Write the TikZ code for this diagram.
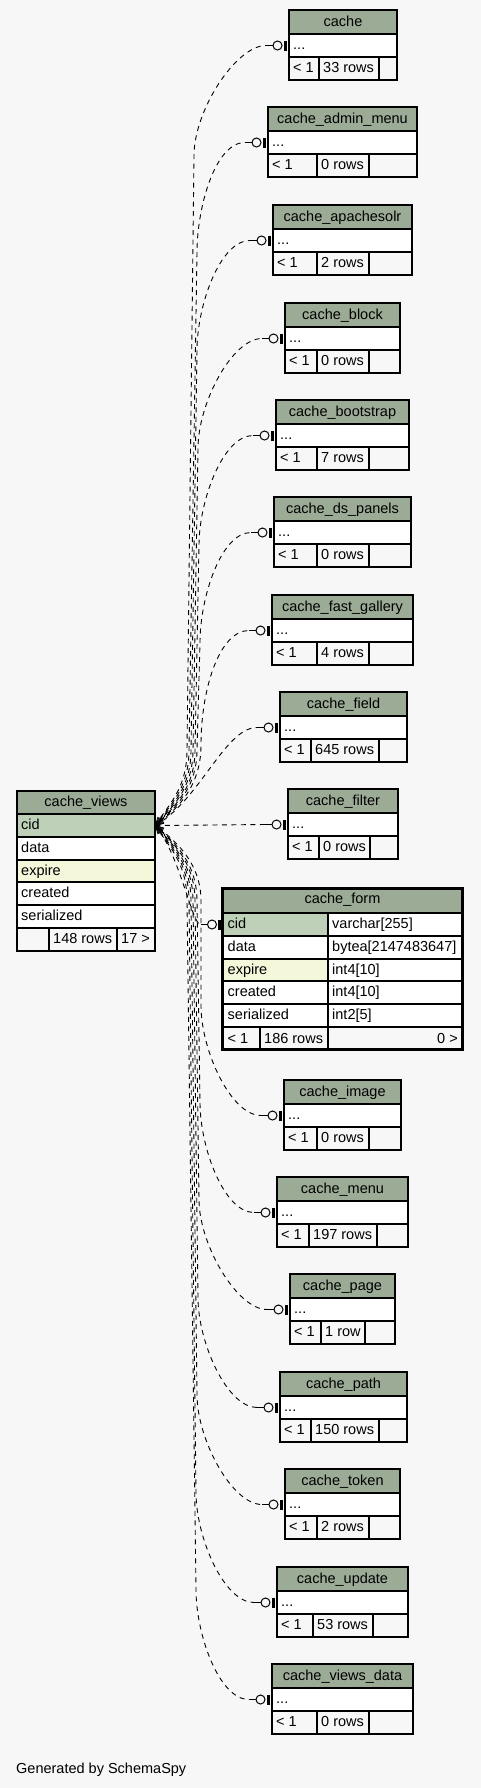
\documentclass[tikz,border=0pt]{standalone}
\usepackage{fontspec}
\setmainfont{Liberation Sans}
\usetikzlibrary{calc}
\definecolor{hdr}{HTML}{9BAB96}
\definecolor{pk}{HTML}{BED1B8}
\definecolor{idx}{HTML}{F4F7DA}
\definecolor{bgc}{HTML}{F7F7F7}
\tikzset{
  tb/.style={draw=black, line width=1.1pt},
  txt/.style={inner sep=4pt, text height=11pt, text depth=2.4pt, font=\fontsize{14.5pt}{17pt}\selectfont},
  rel/.style={draw=black, line width=0.9pt, dash pattern=on 5pt off 4.5pt},
  crowline/.style={draw=black, line width=0.7pt},
  endline/.style={draw=black, line width=1pt},
}
\newcommand\smalltab[8]{%
  \fill[hdr] (#2,#4) rectangle (#3,#4+24);
  \fill[white] (#2,#4+24) rectangle (#3,#4+47);
  \draw[tb] (#2,#4) rectangle (#3,#4+70);
  \draw[tb] (#2,#4+24) -- (#3,#4+24) (#2,#4+47) -- (#3,#4+47);
  \draw[tb] (#5,#4+47) -- (#5,#4+70) (#6,#4+47) -- (#6,#4+70);
  \node[txt] (#1) at ({(#2+#3)/2},#4+12) {#7};
  \node[txt,anchor=west] (#1r) at (#2,#4+35.5) {...};
  \node[txt,anchor=west] (#1a) at (#2,#4+58.5) {< 1};
  \node[txt,anchor=west] (#1b) at (#5,#4+58.5) {#8};
}
\newcommand\teeodot[1]{%
  \draw[endline] ($(#1.west)+(-23,0)$) -- ($(#1.west)+(-16,0)$);
  \draw[endline,fill=bgc] ($(#1.west)+(-11.5,0)$) circle[radius=4.5pt];
  \fill ($(#1.west)+(-5.5,-5)$) rectangle ($(#1.west)+(-2.5,5)$);
}
\newcommand\crowat[1]{\draw[crowline] (cvr1.east) -- ++(#1-16:9) (cvr1.east) -- ++(#1+16:9);}
\begin{document}
\begin{tikzpicture}[x=1pt,y=-1pt]
\useasboundingbox (0,0) rectangle (481,1788);
\fill[bgc] (0,0) rectangle (481,1788);

% cache_views
\fill[hdr] (17,791) rectangle (155,814);
\fill[pk] (17,814) rectangle (155,837);
\fill[white] (17,837) rectangle (155,860);
\fill[idx] (17,860) rectangle (155,882);
\fill[white] (17,882) rectangle (155,928);
\draw[tb] (17,791) rectangle (155,951);
\foreach \yy in {814,837,860,882,905,928} \draw[tb] (17,\yy) -- (155,\yy);
\draw[tb] (49,928) -- (49,951) (117,928) -- (117,951);
\node[txt] (cv) at (86,802.5) {cache\_views};
\node[txt,anchor=west,text width=130pt,align=left] (cvr1) at (17,825.5) {cid};
\node[txt,anchor=west] (cvr2) at (17,848.5) {data};
\node[txt,anchor=west] (cvr3) at (17,871) {expire};
\node[txt,anchor=west] (cvr4) at (17,893.5) {created};
\node[txt,anchor=west] (cvr5) at (17,916.5) {serialized};
\node[txt,anchor=west] (cvf1) at (49,939.5) {148 rows};
\node[txt,anchor=west] (cvf2) at (117,939.5) {17 >};

% cache_form
\fill[hdr] (221,887) rectangle (464,913);
\fill[pk] (221,913) rectangle (328,936);
\fill[white] (328,913) rectangle (464,936);
\fill[white] (221,936) rectangle (464,959);
\fill[idx] (221,959) rectangle (328,981);
\fill[white] (328,959) rectangle (464,1027);
\fill[white] (221,981) rectangle (328,1027);
\foreach \yy in {913,936,959,981,1004,1027} \draw[tb] (221,\yy) -- (464,\yy);
\draw[tb] (328,913) -- (328,1051) (260,1027) -- (260,1051);
\draw[line width=3pt] (222.5,888.5) rectangle (462.5,1049.5);
\node[txt] (fm) at (342.5,899.5) {cache\_form};
\node[txt,anchor=west] (fmr) at (223.5,924.5) {cid};
\node[txt,anchor=west] (fmt1) at (328,924.5) {varchar[255]};
\node[txt,anchor=west] (fmr2) at (223.5,947.5) {data};
\node[txt,anchor=west] (fmt2) at (328,947.5) {bytea[2147483647]};
\node[txt,anchor=west] (fmr3) at (223.5,970) {expire};
\node[txt,anchor=west] (fmt3) at (328,970) {int4[10]};
\node[txt,anchor=west] (fmr4) at (223.5,992.5) {created};
\node[txt,anchor=west] (fmt4) at (328,992.5) {int4[10]};
\node[txt,anchor=west] (fmr5) at (223.5,1015.5) {serialized};
\node[txt,anchor=west] (fmt5) at (328,1015.5) {int2[5]};
\node[txt,anchor=west] (fmf1) at (223.5,1039) {< 1};
\node[txt,anchor=west] (fmf2) at (260,1039) {186 rows};
\node[txt,anchor=east] (fmf3) at (462,1039) {0 >};

% small tables
\smalltab{c1}{289}{397}{10}{319}{379}{cache}{33 rows}
\smalltab{c2}{268}{417}{107}{317}{369}{cache\_admin\_menu}{0 rows}
\smalltab{c3}{273}{412}{205}{317}{369}{cache\_apachesolr}{2 rows}
\smalltab{c4}{285}{400}{303}{317}{369}{cache\_block}{0 rows}
\smalltab{c5}{276}{409}{400}{317}{369}{cache\_bootstrap}{7 rows}
\smalltab{c6}{274}{411}{497}{317}{369}{cache\_ds\_panels}{0 rows}
\smalltab{c7}{272}{413}{595}{317}{369}{cache\_fast\_gallery}{4 rows}
\smalltab{c8}{280}{407}{692}{311}{379}{cache\_field}{645 rows}
\smalltab{c9}{288}{398}{789}{319}{370}{cache\_filter}{0 rows}
\smalltab{c11}{284}{401}{1080}{317}{369}{cache\_image}{0 rows}
\smalltab{c12}{277}{408}{1177}{309}{377}{cache\_menu}{197 rows}
\smalltab{c13}{290}{395}{1274}{321}{365}{cache\_page}{1 row}
\smalltab{c14}{280}{407}{1372}{311}{379}{cache\_path}{150 rows}
\smalltab{c15}{285}{400}{1469}{317}{369}{cache\_token}{2 rows}
\smalltab{c16}{277}{408}{1567}{313}{373}{cache\_update}{53 rows}
\smalltab{c17}{272}{413}{1664}{317}{369}{cache\_views\_data}{0 rows}

% relationships (upper)
\draw[rel] (cvr1.east) .. controls (167,806) and (187,790) .. (187,750) -- (194,155.5) .. controls (194,110.5) and (236,45.5) .. ($(c1r.west)+(-23,0)$);
\draw[rel,dash phase=2pt] (cvr1.east) .. controls (168,807) and (189,790) .. (189,750) -- (197,252.5) .. controls (197,207.5) and (215,142.5) .. ($(c2r.west)+(-23,0)$);
\draw[rel,dash phase=4pt] (cvr1.east) .. controls (169,808) and (191,790) .. (191,750) -- (197,350.5) .. controls (197,305.5) and (220,240.5) .. ($(c3r.west)+(-23,0)$);
\draw[rel,dash phase=6pt] (cvr1.east) .. controls (170,809) and (193,790) .. (193,750) -- (198,448.5) .. controls (198,403.5) and (232,338.5) .. ($(c4r.west)+(-23,0)$);
\draw[rel,dash phase=1pt] (cvr1.east) .. controls (171,810) and (195,790) .. (195,750) -- (199,545.5) .. controls (199,500.5) and (223,435.5) .. ($(c5r.west)+(-23,0)$);
\draw[rel,dash phase=3pt] (cvr1.east) .. controls (172,811) and (197,790) .. (197,750) -- (200,642.5) .. controls (200,597.5) and (221,532.5) .. ($(c6r.west)+(-23,0)$);
\draw[rel,dash phase=5pt] (cvr1.east) .. controls (173,812) and (201,790) .. (201,745) .. controls (201,690) and (219,630.5) .. ($(c7r.west)+(-23,0)$);
\draw[rel] (cvr1.east) .. controls (200,800) and (225,727.5) .. ($(c8r.west)+(-23,0)$);
\draw[rel] (cvr1.east) -- ($(c9r.west)+(-23,0)$);
\draw[rel,dash phase=2pt] (cvr1.east) .. controls (180,855) and (192,924.5) .. ($(fmr.west)+(-23,0)$);
% relationships (lower)
\draw[rel,dash phase=5pt] (cvr1.east) .. controls (173,839) and (201,861) .. (201,901) -- (201,1005.5) .. controls (201,1050.5) and (231,1115.5) .. ($(c11r.west)+(-23,0)$);
\draw[rel,dash phase=3pt] (cvr1.east) .. controls (172,840) and (197,861) .. (197,901) -- (200,1102.5) .. controls (200,1147.5) and (224,1212.5) .. ($(c12r.west)+(-23,0)$);
\draw[rel,dash phase=1pt] (cvr1.east) .. controls (171,841) and (195,861) .. (195,901) -- (199,1199.5) .. controls (199,1244.5) and (237,1309.5) .. ($(c13r.west)+(-23,0)$);
\draw[rel,dash phase=6pt] (cvr1.east) .. controls (170,842) and (193,861) .. (193,901) -- (198,1297.5) .. controls (198,1342.5) and (227,1407.5) .. ($(c14r.west)+(-23,0)$);
\draw[rel,dash phase=4pt] (cvr1.east) .. controls (169,843) and (191,861) .. (191,901) -- (197,1394.5) .. controls (197,1439.5) and (232,1504.5) .. ($(c15r.west)+(-23,0)$);
\draw[rel,dash phase=2pt] (cvr1.east) .. controls (168,844) and (189,861) .. (189,901) -- (196,1492.5) .. controls (196,1537.5) and (224,1602.5) .. ($(c16r.west)+(-23,0)$);
\draw[rel] (cvr1.east) .. controls (167,845) and (187,861) .. (187,901) -- (196,1589.5) .. controls (196,1634.5) and (219,1699.5) .. ($(c17r.west)+(-23,0)$);

% crow feet at cache_views.cid
\foreach \a in {-58,-51,-44,-37,-30,0,50,37,44,51,58} {\crowat{\a}}

% tee-odot ends
\foreach \t in {c1r,c2r,c3r,c4r,c5r,c6r,c7r,c8r,c9r,fmr,c11r,c12r,c13r,c14r,c15r,c16r,c17r} {\teeodot{\t}}

\node[txt,anchor=base west,inner sep=0pt] (gen) at (16,1773) {Generated by SchemaSpy};
\end{tikzpicture}
\end{document}
